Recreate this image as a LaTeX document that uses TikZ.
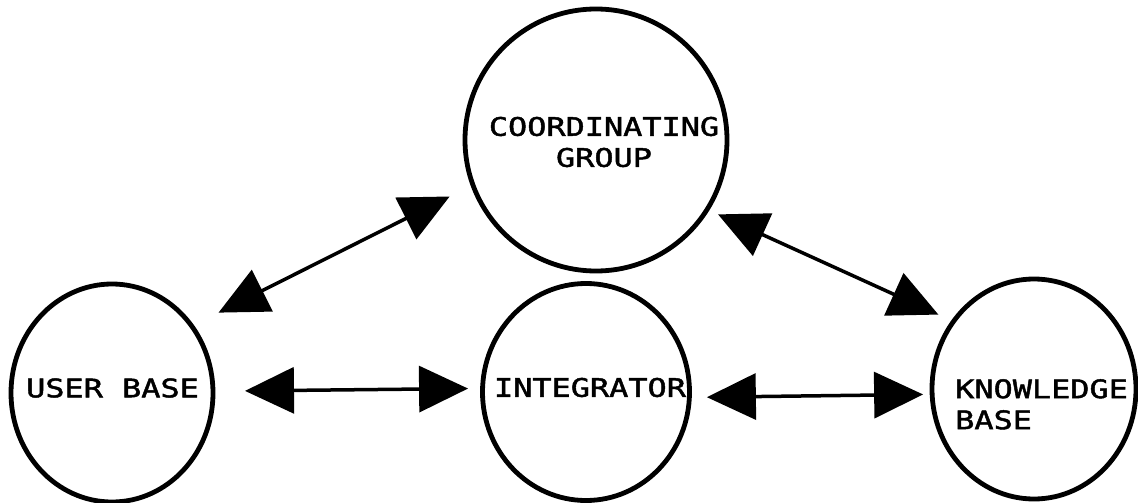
\documentclass[tikz,border=0pt]{standalone}
\usepackage{fontspec}
\usetikzlibrary{shapes.geometric,arrows.meta}
% wide, plotter-like lettering
\newfontfamily\plotfont[FakeStretch=1.25,FakeBold=1.8]{DejaVu Sans Mono}

\begin{document}
\begin{tikzpicture}[x=1pt,y=-1pt,
  bubble/.style={ellipse,draw,line width=4.8pt,inner sep=0pt,outer sep=0pt},
  txt/.style={inner sep=0pt,font={\plotfont\fontsize{25.5}{31}\selectfont}},
  link/.style={line width=3.5pt,
    {Triangle[length=49pt,width=46pt]}-{Triangle[length=49pt,width=46pt]}}]
\useasboundingbox[fill=white] (0,0) rectangle (1138,503);

% the four groups
\node[bubble,minimum width=262pt,minimum height=262pt] (cg) at (596,140) {};
\node[bubble,minimum width=202pt,minimum height=218pt] (ub) at (112,393) {};
\node[bubble,minimum width=207pt,minimum height=217pt] (int) at (586,392) {};
\node[bubble,minimum width=204pt,minimum height=220pt] (kb) at (1034,389) {};

% their names
\node[txt,align=center] (cgt) at (604,142) {COORDINATING\\GROUP};
\node[txt] (ubt) at (112.5,388) {USER BASE};
\node[txt] (intt) at (590,387.5) {INTEGRATOR};
\node[txt,align=left,anchor=north west] (kbt) at (955,379) {KNOWLEDGE\\BASE};

% two-way links
\draw[link,shorten <=30pt,shorten >=26pt] (ub.40.7) -- (cg.200.3);
\draw[link,shorten <=12pt,shorten >=16.6pt] (cg.328.8) -- (kb.140.4);
\draw[link,shorten <=32pt,shorten >=14.5pt] (ub.1.1) -- (int.178.9);
\draw[link,shorten <=17.5pt,shorten >=9pt] (int.-3.3) -- (kb.183.6);
\end{tikzpicture}
\end{document}
